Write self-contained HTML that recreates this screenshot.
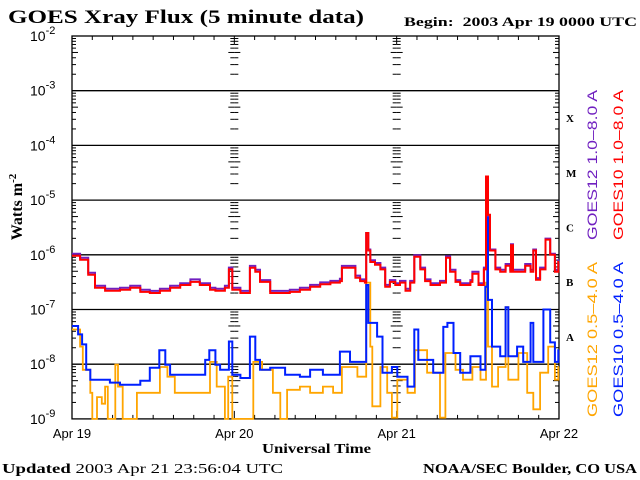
<!DOCTYPE html>
<html><head><meta charset="utf-8"><style>
html,body{margin:0;padding:0;background:#fff;}
svg{display:block;}
text{font-family:"Liberation Serif",serif;}
</style></head><body>
<svg id="chart" width="640" height="480" viewBox="0 0 640 480" xmlns="http://www.w3.org/2000/svg">
<rect x="0" y="0" width="640" height="480" fill="#fff"/>
<text x="8" y="23" font-size="19" font-weight="bold" textLength="356" lengthAdjust="spacingAndGlyphs">GOES Xray Flux (5 minute data)</text>
<text x="404" y="26" font-size="13" font-weight="bold" textLength="233" lengthAdjust="spacingAndGlyphs">Begin:&#160; 2003 Apr 19 0000 UTC</text>
<text transform="translate(22,207) rotate(-90)" text-anchor="middle" font-size="16" font-weight="bold">Watts m<tspan dy="-6" font-size="11">-2</tspan></text>
<text x="262" y="453" font-size="14" font-weight="bold" textLength="109" lengthAdjust="spacingAndGlyphs">Universal Time</text>
<text x="2" y="473" font-size="14" font-weight="bold" textLength="281" lengthAdjust="spacingAndGlyphs">Updated <tspan font-weight="normal">2003 Apr 21 23:56:04 UTC</tspan></text>
<text x="423" y="473" font-size="14" font-weight="bold" textLength="214" lengthAdjust="spacingAndGlyphs">NOAA/SEC Boulder, CO USA</text>
<g font-size="14">
<text transform="translate(597,240) rotate(-90)" textLength="150" lengthAdjust="spacingAndGlyphs" fill="#7020c0" style="font-family:'Liberation Sans',sans-serif">GOES12 1.0–8.0 A</text>
<text transform="translate(623,240) rotate(-90)" textLength="150" lengthAdjust="spacingAndGlyphs" fill="#ff0000" style="font-family:'Liberation Sans',sans-serif">GOES10 1.0–8.0 A</text>
<text transform="translate(597,417) rotate(-90)" textLength="155" lengthAdjust="spacingAndGlyphs" fill="#ffa500" style="font-family:'Liberation Sans',sans-serif">GOES12 0.5–4.0 A</text>
<text transform="translate(623,417) rotate(-90)" textLength="155" lengthAdjust="spacingAndGlyphs" fill="#0020ff" style="font-family:'Liberation Sans',sans-serif">GOES10 0.5–4.0 A</text>
</g>
<g id="axes"></g>
<g id="series"></g>
</svg>
<script>
const dayLabels = ["Apr 19","Apr 20","Apr 21","Apr 22"];
const decadeExps = [-2,-3,-4,-5,-6,-7,-8,-9];
const classLetters = ["X","M","C","B","A"];
const goes10LongTimes = [0,1.2,2.4,3.4,4.9,7.1,8.6,10.1,11.5,13.0,14.5,16.0,17.5,18.9,20.4,21.2,22.6,23.2,23.7,24.9,26.2,26.3,27.1,27.8,29.3,30.8,32.2,33.7,35.2,36.7,38.2,39.6,39.9,41.9,42.6,43.3,43.5,43.8,44.1,44.8,45.6,46.3,47.0,47.8,48.5,49.3,50.0,50.6,51.5,52.2,53.0,54.4,55.3,55.9,56.7,57.4,58.9,59.2,60.1,60.9,61.2,61.5,61.8,62.6,63.3,64.1,64.8,64.9,65.2,66.3,67.0,67.8,68.2,68.6,69.2,70.0,70.7,71.4,71.9,72];
const goes10LongFlux = [9.6e-7,8.1e-7,4.3e-7,2.5e-7,2.2e-7,2.3e-7,2.5e-7,2.1e-7,2.0e-7,2.2e-7,2.5e-7,2.8e-7,3.2e-7,2.8e-7,2.3e-7,2.2e-7,2.5e-7,5.4e-7,2.3e-7,2.0e-7,2.0e-7,5.8e-7,4.9e-7,3.2e-7,2.0e-7,2.0e-7,2.1e-7,2.3e-7,2.6e-7,2.9e-7,3.1e-7,3.3e-7,5.8e-7,3.8e-7,3.3e-7,3.1e-7,2.5e-6,1.2e-6,7.4e-7,6.6e-7,5.4e-7,2.6e-7,3.2e-7,2.8e-7,3.1e-7,2.2e-7,3.1e-7,9.2e-7,5.4e-7,3.3e-7,2.8e-7,3.1e-7,8.8e-7,4.9e-7,3.2e-7,2.8e-7,3.2e-7,4.5e-7,2.8e-7,5.4e-7,2.7e-5,5.4e-6,1.2e-6,5.4e-7,4.9e-7,6.3e-7,4.9e-7,1.5e-6,4.9e-7,4.9e-7,6.3e-7,4.9e-7,1.2e-6,3.5e-7,5.4e-7,1.9e-6,1.0e-6,4.9e-7,7.4e-7,7.4e-7];
const goes12LongTimes = [0,1.2,2.4,3.4,4.9,7.1,8.6,10.1,11.5,13.0,14.5,16.0,17.5,18.9,20.4,21.2,22.6,23.2,23.7,24.9,26.2,26.3,27.1,27.8,29.3,30.8,32.2,33.7,35.2,36.7,38.2,39.6,39.9,41.9,42.6,43.3,43.5,43.8,44.1,44.8,45.6,46.3,47.0,47.8,48.5,49.3,50.0,50.6,51.5,52.2,53.0,54.4,55.3,55.9,56.7,57.4,58.9,59.2,60.1,60.9,61.2,61.5,61.8,62.6,63.3,64.1,64.8,64.9,65.2,66.3,67.0,67.8,68.2,68.6,69.2,70.0,70.7,71.4,71.9,72];
const goes12LongFlux = [1.0e-6,8.5e-7,4.5e-7,2.6e-7,2.3e-7,2.4e-7,2.6e-7,2.2e-7,2.1e-7,2.3e-7,2.6e-7,2.9e-7,3.4e-7,2.9e-7,2.4e-7,2.3e-7,2.6e-7,5.6e-7,2.4e-7,2.1e-7,2.1e-7,6.0e-7,5.1e-7,3.3e-7,2.1e-7,2.1e-7,2.2e-7,2.4e-7,2.7e-7,3.0e-7,3.2e-7,3.5e-7,6.0e-7,4.0e-7,3.4e-7,3.2e-7,2.4e-6,1.2e-6,7.6e-7,6.8e-7,5.6e-7,2.7e-7,3.3e-7,2.9e-7,3.2e-7,2.3e-7,3.2e-7,9.4e-7,5.6e-7,3.4e-7,2.9e-7,3.2e-7,9.0e-7,5.1e-7,3.3e-7,2.9e-7,3.3e-7,4.7e-7,2.9e-7,5.6e-7,2.4e-5,5.0e-6,1.2e-6,5.6e-7,5.1e-7,6.5e-7,5.1e-7,1.5e-6,5.1e-7,5.1e-7,6.5e-7,5.1e-7,1.2e-6,3.6e-7,5.6e-7,1.9e-6,1.0e-6,5.1e-7,7.6e-7,7.6e-7];
const goes10ShortTimes = [0,0.9,1.5,2.1,2.7,5.6,7.1,10.1,11.5,12.7,12.9,13.8,14.5,18.9,19.7,20.3,21.2,21.9,23.2,23.7,24.9,26.2,26.3,27.1,27.8,29.3,31.5,33.7,35.2,37.1,39.6,41.1,43.3,43.5,43.8,45.1,45.9,47.3,48.1,49.6,50.6,51.2,53.4,54.9,55.5,56.4,57.4,58.9,60.4,61.1,61.4,61.5,62.1,63.3,64.1,64.5,65.8,66.7,67.8,68.2,69.7,70.7,71.4,71.9];
const goes10ShortFlux = [5.0e-8,3.5e-8,2.3e-8,7.9e-9,5.2e-9,4.6e-9,4.2e-9,5.0e-9,8.6e-9,8.6e-9,1.8e-8,9.8e-9,6.4e-9,6.4e-9,1.2e-8,1.8e-8,9.8e-9,7.9e-9,2.6e-8,6.4e-9,5.6e-9,5.6e-9,3.2e-8,1.2e-8,7.9e-9,8.6e-9,6.4e-9,5.9e-9,7.9e-9,6.4e-9,1.7e-8,1.1e-8,1.1e-8,2.8e-7,5.7e-8,3.2e-8,7.0e-9,8.9e-9,5.9e-9,3.9e-9,4.3e-8,1.2e-8,7.0e-9,4.8e-8,5.7e-8,1.6e-8,7.0e-9,1.4e-8,7.9e-9,2.6e-7,6.6e-6,1.5e-7,2.1e-8,1.4e-8,1.1e-7,1.4e-8,2.1e-8,1.1e-8,5.7e-8,1.1e-8,1.0e-7,2.5e-8,1.1e-8,1.8e-8];
const goes12ShortTimes = [0,1.2,1.6,2.7,3.0,3.4,3.7,4.4,4.9,5.3,6.4,6.8,7.5,9.0,9.6,11.5,13.0,14.1,15.2,19.4,20.4,21.4,22.6,23.1,23.7,26.3,26.8,28.1,29.7,30.8,31.8,33.7,35.2,37.1,38.6,39.9,42.2,43.5,44.1,44.4,45.6,46.6,47.3,48.1,49.6,50.7,52.5,54.4,55.2,56.7,57.8,59.2,60.4,61.2,61.5,62.1,63.0,64.1,64.5,66.0,67.3,68.2,69.2,70.4,71.4,71.9];
const goes12ShortFlux = [4.3e-8,2.1e-8,7.9e-9,3.0e-9,1e-9,1e-9,2.5e-9,1.9e-9,3.9e-9,1e-9,9.8e-9,3.9e-9,1e-9,1e-9,3.0e-9,3.0e-9,8.9e-9,5.9e-9,3.0e-9,3.0e-9,1.1e-8,3.9e-9,1e-9,5.9e-9,1e-9,1e-9,1.1e-8,7.9e-9,3.0e-9,1e-9,3.4e-9,3.9e-9,3.0e-9,3.9e-9,3.0e-9,8.9e-9,5.9e-9,3.1e-7,2.1e-8,1.7e-9,8.9e-9,3.0e-9,1.05e-9,5.2e-9,3.0e-9,1.8e-8,7.0e-9,1.05e-9,1.6e-8,7.9e-9,5.2e-9,8.9e-9,5.2e-9,3.1e-7,2.1e-8,3.9e-9,8.9e-9,1.1e-7,5.2e-9,1.6e-8,3.0e-9,1.5e-9,7.0e-9,2.1e-8,5.2e-9,8.9e-9];

const NS="http://www.w3.org/2000/svg";
const X0=72, X1=559, Y0=36, DEC=54.7;
function xScale(h){return X0+(X1-X0)*h/72;}
function yScale(f){let l=Math.log10(Math.max(f,1e-9));return Y0+(-2-l)*DEC;}
function mk(tag,attrs,parent){const e=document.createElementNS(NS,tag);for(const k in attrs)e.setAttribute(k,attrs[k]);parent.appendChild(e);return e;}
const axes=document.getElementById('axes');
const Yb=yScale(1e-9);
decadeExps.forEach((e,i)=>{
  const y=yScale(Math.pow(10,e));
  if(i>0&&i<decadeExps.length-1){
    const g=mk('line',{x1:X0,x2:X1,y1:y,y2:y,stroke:'#000','stroke-width':1.3},axes);
    
    
  }
  const t=mk('text',{x:30,y:y+5,'font-size':14,style:"font-family:'Liberation Sans',sans-serif"},axes);
  
  
  t.textContent='10';
  const s=mk('tspan',{dy:-7,'font-size':11},t); s.textContent=String(e);
  if(e>-9){
    for(let m=2;m<=9;m++){
      const ym=yScale(m*Math.pow(10,e-1));
      [X0,xScale(24),xScale(48)].forEach(xx=>{mk('line',{x1:xx,x2:xx+(m===5?6:4),y1:ym,y2:ym,stroke:'#000'},axes);});
      [xScale(24),xScale(48),X1].forEach(xx=>{mk('line',{x1:xx,x2:xx-(m===5?6:4),y1:ym,y2:ym,stroke:'#000'},axes);});
    }
  }
});
const fr=mk('rect',{x:X0,y:Y0,width:X1-X0,height:Yb-Y0,fill:'none',stroke:'#000','stroke-width':1.3},axes);


for(let h=3;h<72;h+=3){
  const x=xScale(h), len=(h%24===0)?8:4;
  mk('line',{x1:x,x2:x,y1:Y0,y2:Y0+len,stroke:'#000'},axes);
  mk('line',{x1:x,x2:x,y1:Yb,y2:Yb-len,stroke:'#000'},axes);
}
dayLabels.forEach((d,i)=>{
  const t=mk('text',{x:xScale(i*24),y:438,'text-anchor':'middle','font-size':13,style:"font-family:'Liberation Sans',sans-serif"},axes);
  
  
  t.textContent=d;
});
classLetters.forEach((c,i)=>{
  const y=(yScale(Math.pow(10,-3-i))+yScale(Math.pow(10,-4-i)))/2+4;
  const t=mk('text',{x:566,y:y,'font-size':11,'font-weight':'bold'},axes);
  
  
  t.textContent=c;
});
const ser=document.getElementById('series');
function draw(times,flux,color,name,w,dx,dy){
  let d='';
  times.forEach((h,i)=>{
    const x=(xScale(h)+dx).toFixed(1), y=(yScale(flux[i])+dy).toFixed(1);
    if(i===0) d+='M'+x+','+y;
    else d+='H'+x+'V'+y;
  });
  d+='H'+(xScale(72)+dx).toFixed(1);
  const p=mk('path',{d:d,fill:'none',stroke:color,'stroke-width':w},ser);
  
  
}
draw(goes12ShortTimes,goes12ShortFlux,'#ffa500','series-goes12-short',1.8,0,0);
draw(goes10ShortTimes,goes10ShortFlux,'#0020ff','series-goes10-short',2,0,0);
draw(goes12LongTimes,goes12LongFlux,'#7020c0','series-goes12-long',2,0,-1);
draw(goes10LongTimes,goes10LongFlux,'#ff0000','series-goes10-long',2,0,0);
</script>
</body></html>
